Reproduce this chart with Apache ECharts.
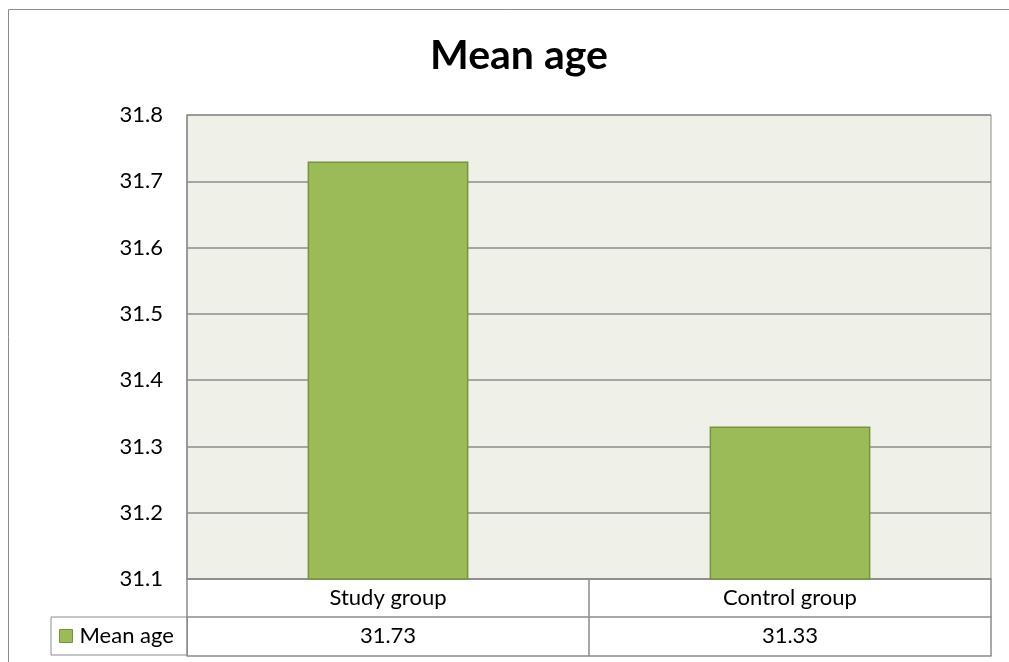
<!DOCTYPE html>
<html>
<head>
<meta charset="utf-8">
<script src="https://cdn.jsdelivr.net/npm/echarts@6/dist/echarts.min.js"></script>
<style>
  html, body { margin: 0; padding: 0; background: #ffffff; }
  #chart { width: 1009px; height: 662px; }
</style>
</head>
<body>
<div id="chart"></div>
<script>
// Chart data
const chartTitle = 'Mean age';
const seriesName = 'Mean age';
const groups = ['Study group', 'Control group'];
const meanAge = [31.73, 31.33];
const yTicks = [31.1, 31.2, 31.3, 31.4, 31.5, 31.6, 31.7, 31.8];

const FONT = 'Lato, "Open Sans", sans-serif';
const LINE = '#8c8c8c';
const BAR_FILL = '#9bbb59';
const BAR_EDGE = '#77933c';

const chart = echarts.init(document.getElementById('chart'), null, { renderer: 'canvas' });

chart.setOption({
  animation: false,
  backgroundColor: '#ffffff',
  textStyle: { fontFamily: FONT, color: '#000000' },
  title: {
    text: chartTitle,
    left: 514,
    textAlign: 'center',
    top: 30,
    textStyle: { fontFamily: FONT, fontWeight: 'bold', fontSize: 41, color: '#000000' }
  },
  // outer chart frame
  graphic: [{
    type: 'rect',
    shape: { x: 8.5, y: 9.5, width: 1020, height: 680 },
    style: { fill: null, stroke: LINE, lineWidth: 1 },
    silent: true,
    z: -1
  }],
  legend: {
    left: 51,
    top: 617,
    orient: 'horizontal',
    data: [seriesName],
    icon: 'rect',
    itemWidth: 13,
    itemHeight: 13,
    borderColor: LINE,
    borderWidth: 1,
    padding: [7, 6, 7, 8],
    itemStyle: { borderColor: BAR_EDGE, borderWidth: 1 },
    textStyle: { fontFamily: FONT, fontSize: 22, color: '#000000', lineHeight: 24, width: 102, padding: [0, 0, 0, 2] }
  },
  grid: {
    left: 187,
    right: 18,
    top: 115,
    bottom: 83,
    show: true,
    backgroundColor: '#eff1e9',
    borderColor: LINE,
    borderWidth: 1
  },
  xAxis: [
    {
      type: 'category',
      data: groups,
      position: 'bottom',
      boundaryGap: true,
      axisLine: { show: true, lineStyle: { color: LINE, width: 1.5 } },
      axisTick: { show: true, length: 77, lineStyle: { color: LINE, width: 1.5 } },
      axisLabel: { fontFamily: FONT, fontSize: 22, color: '#000000', margin: 7, lineHeight: 24 },
      splitLine: { show: false }
    },
    {
      type: 'category',
      data: meanAge.map(v => v.toFixed(2)),
      position: 'bottom',
      offset: 38,
      boundaryGap: true,
      axisLine: { show: true, lineStyle: { color: LINE, width: 1.5 } },
      axisTick: { show: false },
      axisLabel: { fontFamily: FONT, fontSize: 22, color: '#000000', margin: 7, lineHeight: 24 },
      splitLine: { show: false }
    },
    {
      type: 'category',
      data: groups,
      position: 'bottom',
      offset: 77,
      boundaryGap: true,
      axisLine: { show: true, lineStyle: { color: LINE, width: 1.5 } },
      axisTick: { show: false },
      axisLabel: { show: false },
      splitLine: { show: false }
    }
  ],
  yAxis: {
    type: 'value',
    min: yTicks[0],
    max: yTicks[yTicks.length - 1],
    interval: 0.1,
    axisLine: { show: true, lineStyle: { color: LINE, width: 1.5 } },
    axisTick: { show: false },
    axisLabel: {
      fontFamily: FONT, fontSize: 22, color: '#000000', margin: 24,
      formatter: v => v.toFixed(1)
    },
    splitLine: { show: true, lineStyle: { color: LINE, width: 1.5 } }
  },
  series: [{
    name: seriesName,
    type: 'bar',
    xAxisIndex: 0,
    data: meanAge,
    barWidth: '40%',
    itemStyle: { color: BAR_FILL, borderColor: BAR_EDGE, borderWidth: 1.5 }
  }]
});
</script>
</body>
</html>
